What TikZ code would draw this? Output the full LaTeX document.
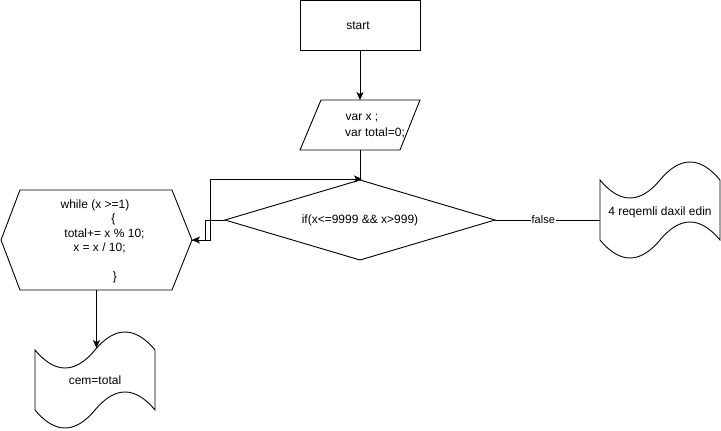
\documentclass[tikz,border=0pt]{standalone}
\usepackage{fontspec}
\setmainfont{Liberation Sans}
\usetikzlibrary{arrows.meta,calc}
\tikzset{
  shapeline/.style={draw=black,line width=0.9pt},
  conn/.style={draw=black,line width=0.9pt},
  arrowconn/.style={conn,-{Stealth[length=8pt,width=7pt,inset=2pt]}},
  ghost/.style={draw=none,inner sep=0pt,outer sep=0pt},
  txt/.style={inner sep=0pt,font=\fontsize{12}{14.4}\selectfont},
  smalltxt/.style={inner sep=1pt,fill=white,font=\fontsize{11}{13}\selectfont}
}
\newcommand\drawtapeshape[1]{%
  \draw[shapeline]
    ([shift={(0,20)}]#1.north west)
    .. controls ([shift={(20,44)}]#1.north west) and ([shift={(40,44)}]#1.north west) ..
    ([shift={(60,20)}]#1.north west)
    .. controls ([shift={(80,-4)}]#1.north west) and ([shift={(100,-4)}]#1.north west) ..
    ([shift={(120,20)}]#1.north west)
    -- ([shift={(120,80)}]#1.north west)
    .. controls ([shift={(100,56)}]#1.north west) and ([shift={(80,56)}]#1.north west) ..
    ([shift={(60,80)}]#1.north west)
    .. controls ([shift={(40,104)}]#1.north west) and ([shift={(20,104)}]#1.north west) ..
    ([shift={(0,80)}]#1.north west)
    -- cycle;}
\begin{document}
\begin{tikzpicture}[x=1pt,y=-1pt]
\useasboundingbox (0,0) rectangle (721,431);
% start
\node[shapeline,minimum width=120pt,minimum height=50pt,inner sep=0pt] (start) at (360,25.5) {};
\node[txt] (starttxt) at (358,26) {start};
% parallelogram
\node[ghost,minimum width=120pt,minimum height=50pt] (var) at (360,125) {};
\draw[shapeline] ([xshift=21pt]var.north west) -- (var.north east) -- ([xshift=-20pt]var.south east) -- (var.south west) -- cycle;
\node[txt] (vartxt1) at (362,118) {var x ;};
\node[txt] (vartxt2) at (375,133) {var total=0;};
% diamond
\node[ghost,minimum width=270pt,minimum height=80pt] (cond) at (360,220) {};
\draw[shapeline] (cond.north) -- (cond.east) -- (cond.south) -- (cond.west) -- cycle;
\node[txt] (condtxt) at (360,220) {if(x<=9999 \&\& x>999)};
% hexagon
\node[ghost,minimum width=191pt,minimum height=100pt] (loop) at (96.5,240) {};
\draw[shapeline] (loop.west) -- ([xshift=19pt]loop.north west) -- ([xshift=-20pt]loop.north east) -- (loop.east) -- ([xshift=-20pt]loop.south east) -- ([xshift=19pt]loop.south west) -- cycle;
\node[txt] (l1) at (95,205) {while (x >=1)};
\node[txt] (l2) at (113.5,219.4) {\{};
\node[txt] (l3) at (104.5,233.8) {total+= x \% 10;};
\node[txt] (l4) at (99.5,248.2) {x = x / 10;};
\node[txt] (l6) at (115,277) {\}};
% tapes
\node[ghost,minimum width=120pt,minimum height=100pt] (cem) at (95,380) {};
\drawtapeshape{cem}
\node[txt] (cemtxt) at (95,380) {cem=total};
\node[ghost,minimum width=120pt,minimum height=100pt] (msg) at (660,210) {};
\drawtapeshape{msg}
\node[txt] (msgtxt) at (660,212) {4 reqemli daxil edin};
% connectors
\draw[arrowconn] (start.south) -- (var.north);
\draw[conn] (var.south) -- (cond.north);
\draw[arrowconn] (cond.west) -- ++(-20,0) |- (loop.east);
\draw[arrowconn] (loop.east) -- ++(18,0) |- ([shift={(2,-1)}]cond.north);
\draw[arrowconn] (loop.south) -- ([shift={(0,18)}]loop.south |- cem.north);
\draw[conn] (cond.east) -- node[smalltxt,pos=0.46] (falselbl) {false} (cond.east -| msg.west);
\end{tikzpicture}
\end{document}
